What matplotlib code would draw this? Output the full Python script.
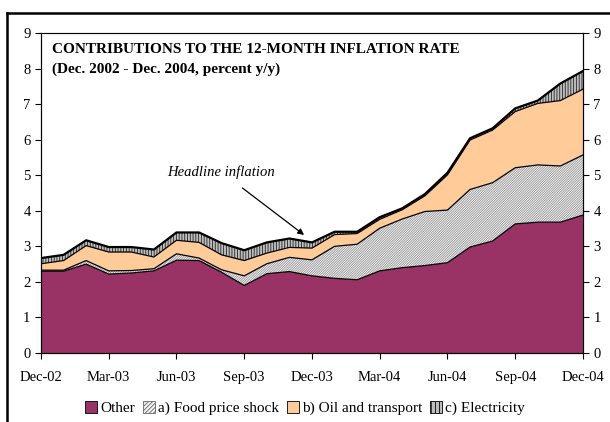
import matplotlib.pyplot as plt
from matplotlib.lines import Line2D
from matplotlib.patches import Patch

plt.rcParams['font.family'] = ['Liberation Serif', 'DejaVu Serif']
plt.rcParams['hatch.linewidth'] = 0.6

# месяцы Dec-02 .. Dec-04
months = list(range(25))
tick_pos = [0, 3, 6, 9, 12, 15, 18, 21, 24]
tick_lbl = ['Dec-02', 'Mar-03', 'Jun-03', 'Sep-03', 'Dec-03',
            'Mar-04', 'Jun-04', 'Sep-04', 'Dec-04']

other = [2.30, 2.30, 2.50, 2.22, 2.25, 2.31, 2.61, 2.60, 2.27, 1.90, 2.23, 2.29, 2.17,
         2.10, 2.06, 2.31, 2.40, 2.46, 2.54, 2.98, 3.15, 3.63, 3.68, 3.68, 3.88]
food = [0.03, 0.03, 0.10, 0.09, 0.07, 0.06, 0.18, 0.07, 0.07, 0.27, 0.28, 0.40, 0.45,
        0.90, 1.00, 1.20, 1.37, 1.52, 1.48, 1.62, 1.64, 1.58, 1.61, 1.58, 1.69]
oil = [0.18, 0.27, 0.42, 0.53, 0.52, 0.33, 0.38, 0.44, 0.42, 0.43, 0.30, 0.28, 0.33,
       0.33, 0.30, 0.25, 0.26, 0.44, 0.99, 1.39, 1.48, 1.58, 1.73, 1.84, 1.85]
elec = [0.16, 0.16, 0.15, 0.14, 0.14, 0.21, 0.22, 0.28, 0.33, 0.29, 0.30, 0.25, 0.16,
        0.08, 0.05, 0.06, 0.04, 0.05, 0.06, 0.05, 0.05, 0.09, 0.08, 0.48, 0.51]

names = ['Other', 'a) Food price shock', 'b) Oil and transport', 'c) Electricity']

fig = plt.figure(figsize=(6.1, 4.22), dpi=100)
ax = fig.add_axes([0.0672, 0.1635, 0.8885, 0.7583])

# накопленные уровни
lvl0 = [0] * 25
lvl1 = other
lvl2 = [a + b for a, b in zip(lvl1, food)]
lvl3 = [a + b for a, b in zip(lvl2, oil)]
lvl4 = [a + b for a, b in zip(lvl3, elec)]

ax.fill_between(months, lvl0, lvl1, facecolor='#993366', lw=0)
ax.fill_between(months, lvl1, lvl2, facecolor='#f2f2f2', hatch='//////////////',
                edgecolor='#9a9a9a', lw=0)
ax.fill_between(months, lvl2, lvl3, facecolor='#ffcc99', lw=0)
ax.fill_between(months, lvl3, lvl4, facecolor='#bdbdbd', hatch='||||||',
                edgecolor='#262626', lw=0)
for lv, w in [(lvl1, 0.9), (lvl2, 0.9), (lvl3, 0.9), (lvl4, 1.6)]:
    ax.plot(months, lv, color='black', lw=w)

ax.set_xlim(0, 24)
ax.set_ylim(0, 9)
ax.set_xticks(tick_pos)
ax.set_xticklabels(tick_lbl)
ax.set_yticks(range(10))
ax.tick_params(labelsize=10.5, direction='out', length=4, width=0.8)
ax.tick_params(axis='x', pad=9)
ax.spines['top'].set_color('#777777')
ax.spines['top'].set_linewidth(0.8)

ax2 = ax.twinx()
ax2.set_ylim(0, 9)
ax2.set_yticks(range(10))
ax2.tick_params(labelsize=10.5, direction='out', length=4, width=0.8)

ax.text(0.5, 8.55, 'CONTRIBUTIONS TO THE 12-MONTH INFLATION RATE',
        fontsize=11, fontweight='bold', va='center')
ax.text(0.5, 7.98, '(Dec. 2002 - Dec. 2004, percent y/y)',
        fontsize=11, fontweight='bold', va='center')

ax.annotate('Headline inflation', xy=(11.65, 3.32), xytext=(7.97, 5.1),
            ha='center', va='center', fontsize=10.5, style='italic',
            arrowprops=dict(arrowstyle='-|>', color='black', lw=0.9,
                            shrinkA=8, shrinkB=0, mutation_scale=9))

handles = [Patch(facecolor='#993366', edgecolor='black', lw=0.6),
           Patch(facecolor='#f2f2f2', edgecolor='#666666', hatch='////////', lw=0.6),
           Patch(facecolor='#ffcc99', edgecolor='black', lw=0.6),
           Patch(facecolor='#bdbdbd', edgecolor='black', hatch='||||', lw=0.6)]
fig.legend(handles, names, loc='center', bbox_to_anchor=(0.5, 0.033), ncol=4,
           frameon=False, fontsize=11, handlelength=0.8, handleheight=0.8,
           handletextpad=0.2, columnspacing=0.5, borderaxespad=0)

# рамка документа
fig.add_artist(Line2D([7 / 610, 7 / 610], [0, 1 - 13 / 422], color='black', lw=1.8))
fig.add_artist(Line2D([7 / 610, 1], [1 - 13 / 422, 1 - 13 / 422], color='black', lw=1.8))

fig.savefig('out.png', dpi=100)
